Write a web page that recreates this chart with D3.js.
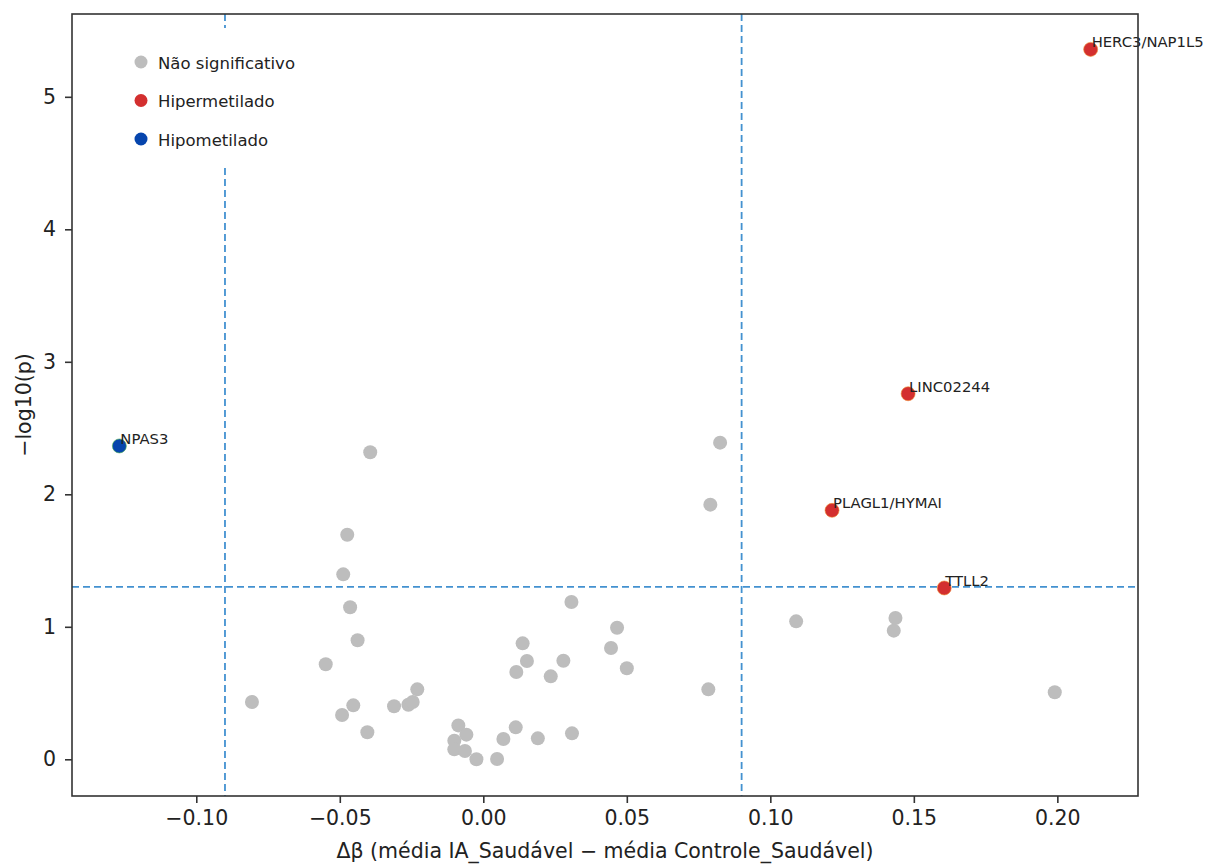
<!DOCTYPE html>
<html>
<head>
<meta charset="utf-8">
<script src="https://cdn.jsdelivr.net/npm/d3@7"></script>
<style>
  html, body { margin: 0; padding: 0; background: #fff; }
  svg { display: block; font-family: "DejaVu Sans", sans-serif; }
</style>
</head>
<body>
<svg id="chart" width="1206" height="865"></svg>
<script>
// ---- data ----
const grayX = [-0.0394, -0.0474, -0.0488, -0.0464, -0.0438, -0.0549, -0.0806, -0.0453, -0.0492, -0.0404,
               -0.0311, -0.0261, -0.0246, -0.0230, -0.0087, -0.0059, -0.0101, -0.0101, -0.0064, -0.0024,
               0.0048, 0.0070, 0.0113, 0.0190, 0.0309, 0.0115, 0.0235, 0.0152, 0.0279, 0.0137,
               0.0445, 0.0466, 0.0500, 0.0307, 0.0784, 0.0791, 0.0825, 0.1090, 0.1436, 0.1430, 0.1991];
const grayY = [2.317, 1.695, 1.396, 1.147, 0.898, 0.717, 0.432, 0.407, 0.334, 0.204,
               0.400, 0.412, 0.432, 0.528, 0.256, 0.186, 0.140, 0.075, 0.063, 0.000,
               0.002, 0.153, 0.241, 0.158, 0.196, 0.659, 0.626, 0.742, 0.744, 0.875,
               0.840, 0.993, 0.687, 1.187, 0.528, 1.922, 2.390, 1.041, 1.066, 0.971, 0.506];

const hyperGenes = ["HERC3/NAP1L5", "LINC02244", "PLAGL1/HYMAI", "TTLL2"];
const hyperX = [0.2116, 0.1480, 0.1215, 0.1606];
const hyperY = [5.358, 2.759, 1.879, 1.293];

const hypoGenes = ["NPAS3"];
const hypoX = [-0.1268];
const hypoY = [2.365];

const xTicks = [-0.10, -0.05, 0.00, 0.05, 0.10, 0.15, 0.20];
const yTicks = [0, 1, 2, 3, 4, 5];
const deltaThreshold = 0.09;
const pThreshold = 0.05;

const legendLabels = ["Não significativo", "Hipermetilado", "Hipometilado"];
const colors = ["#bdbdbd", "#d32f2f", "#0645ad"];

const xLabel = "Δβ (média IA_Saudável − média Controle_Saudável)";
const yLabel = "−log10(p)";

// ---- layout ----
const L = 72, R = 1138, T = 14, B = 796;
const svg = d3.select("#chart");

const x = d3.scaleLinear().domain([-0.1433, 0.2281]).range([L, R]);
const y = d3.scaleLinear().domain([-0.277, 5.625]).range([B, T]);

// threshold lines
const thrColor = "#2f86cc";
const dash = "7,4";
[-deltaThreshold, deltaThreshold].forEach(v => {
  svg.append("line").attr("x1", x(v)).attr("x2", x(v)).attr("y1", T).attr("y2", B)
    .attr("stroke", thrColor).attr("stroke-width", 1.8).attr("stroke-dasharray", dash).attr("opacity", 0.9);
});
svg.append("line").attr("x1", L).attr("x2", R)
  .attr("y1", y(-Math.log10(pThreshold))).attr("y2", y(-Math.log10(pThreshold)))
  .attr("stroke", thrColor).attr("stroke-width", 1.8).attr("stroke-dasharray", dash).attr("opacity", 0.9);

// legend background (covers the dashed line)
svg.append("rect").attr("x", 118).attr("y", 28).attr("width", 192).attr("height", 140).attr("fill", "#fff");

// points
const r = 7;
svg.append("g").selectAll("circle").data(grayX.map((d, i) => [d, grayY[i]])).join("circle")
  .attr("cx", d => x(d[0])).attr("cy", d => y(d[1])).attr("r", r).attr("fill", colors[0]);
svg.append("g").selectAll("circle").data(hyperX.map((d, i) => [d, hyperY[i]])).join("circle")
  .attr("cx", d => x(d[0])).attr("cy", d => y(d[1])).attr("r", r).attr("fill", colors[1])
  .attr("stroke", "#f08a30").attr("stroke-width", 0.6);
svg.append("g").selectAll("circle").data(hypoX.map((d, i) => [d, hypoY[i]])).join("circle")
  .attr("cx", d => x(d[0])).attr("cy", d => y(d[1])).attr("r", r).attr("fill", colors[2])
  .attr("stroke", "#4caf50").attr("stroke-width", 0.6);

// annotations
const ann = hyperGenes.map((g, i) => [g, hyperX[i], hyperY[i]])
  .concat(hypoGenes.map((g, i) => [g, hypoX[i], hypoY[i]]));
svg.append("g").selectAll("text").data(ann).join("text")
  .attr("x", d => x(d[1]) + 1).attr("y", d => y(d[2]) - 2)
  .attr("font-size", 14.8).attr("fill", "#222").text(d => d[0]);

// axes
const xAxis = d3.axisBottom(x).tickValues(xTicks).tickFormat(d3.format(".2f")).tickSize(7).tickPadding(7);
const yAxis = d3.axisLeft(y).tickValues(yTicks).tickFormat(d3.format("d")).tickSize(7).tickPadding(9);
const gx = svg.append("g").attr("transform", `translate(0,${B})`).call(xAxis);
const gy = svg.append("g").attr("transform", `translate(${L},0)`).call(yAxis);
[gx, gy].forEach(g => {
  g.select(".domain").remove();
  g.selectAll(".tick line").attr("stroke", "#333").attr("stroke-width", 1.6);
  g.selectAll(".tick text").attr("font-size", 20.5).attr("fill", "#222")
    .attr("font-family", "DejaVu Sans, sans-serif");
});

// frame
svg.append("rect").attr("x", L).attr("y", T).attr("width", R - L).attr("height", B - T)
  .attr("fill", "none").attr("stroke", "#333").attr("stroke-width", 1.6);

// axis labels
svg.append("text").attr("x", (L + R) / 2).attr("y", 858).attr("text-anchor", "middle")
  .attr("font-size", 20.5).attr("fill", "#222").text(xLabel);
svg.append("text").attr("transform", `translate(31,${(T + B) / 2}) rotate(-90)`)
  .attr("text-anchor", "middle").attr("font-size", 20.5).attr("fill", "#222").text(yLabel);

// legend
const lg = svg.append("g");
legendLabels.forEach((lab, i) => {
  const yy = 62 + i * 38.5;
  lg.append("circle").attr("cx", 141).attr("cy", yy).attr("r", 6.5).attr("fill", colors[i]);
  lg.append("text").attr("x", 158).attr("y", yy + 2).attr("dominant-baseline", "middle")
    .attr("font-size", 16.5).attr("fill", "#222").text(lab);
});
</script>
</body>
</html>
